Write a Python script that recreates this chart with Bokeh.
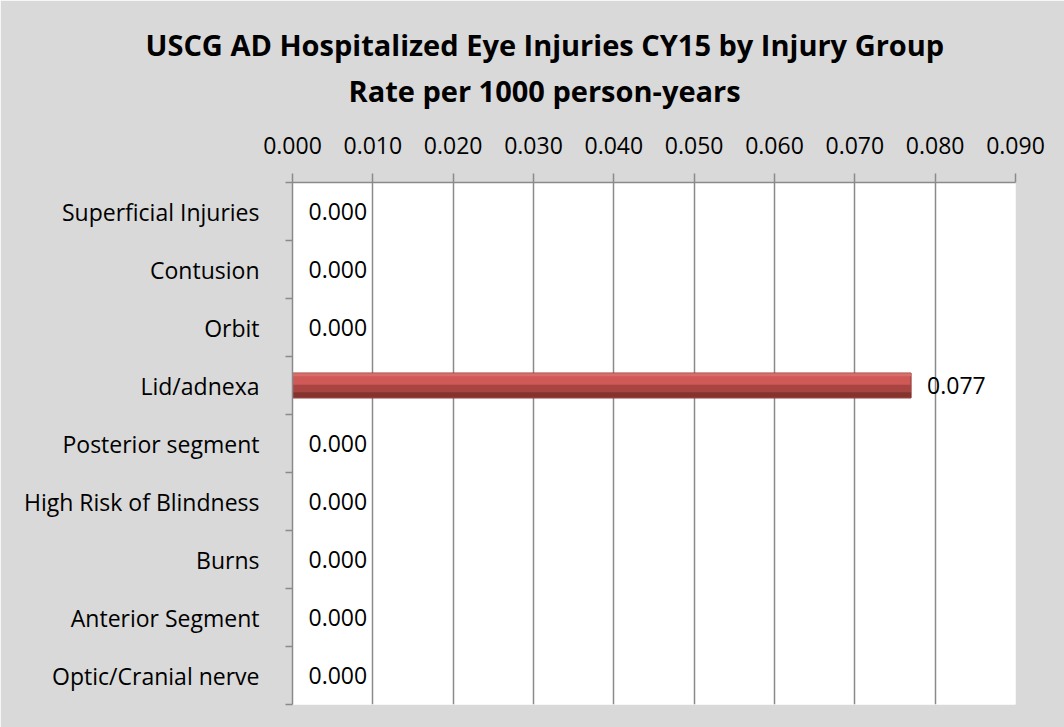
from bokeh.plotting import figure
from bokeh.models import (Range1d, LinearAxis, FixedTicker, Title,
                          NumeralTickFormatter, ColumnDataSource)
from bokeh.core.properties import value
from bokeh.embed import file_html
from bokeh.resources import INLINE

# ---- data ----
categories = ["Superficial Injuries", "Contusion", "Orbit", "Lid/adnexa",
              "Posterior segment", "High Risk of Blindness", "Burns",
              "Anterior Segment", "Optic/Cranial nerve"]
rates = [0.000, 0.000, 0.000, 0.077, 0.000, 0.000, 0.000, 0.000, 0.000]
x_ticks = [0.000, 0.010, 0.020, 0.030, 0.040, 0.050, 0.060, 0.070, 0.080, 0.090]
title_line1 = "USCG AD Hospitalized Eye Injuries CY15 by Injury Group"
title_line2 = "Rate per 1000 person-years"

FONT = "Open Sans"
GRID = "#8a8a8a"
FS = "23px"

n = len(categories)
# category slot centres, first category at the top
ypos = [n - 1 - i + 0.5 for i in range(n)]

source = ColumnDataSource(data=dict(
    cat=categories,
    y=ypos,
    rate=rates,
    label=[f"{v:.3f}" for v in rates],
))

p = figure(width=1064, height=727,
           y_range=Range1d(0, n),
           x_range=Range1d(0, 0.09),
           x_axis_location="above",
           output_backend="svg", toolbar_location=None,
           min_border_left=292, min_border_right=49,
           min_border_top=182, min_border_bottom=23)

p.border_fill_color = "#d9d9d9"
p.background_fill_color = "white"
p.outline_line_color = None

# top x axis
xa = p.xaxis[0]
xa.ticker = FixedTicker(ticks=x_ticks)
xa.formatter = NumeralTickFormatter(format="0.000")
xa.major_tick_out = 9
xa.major_tick_in = 0
xa.minor_tick_line_color = None
xa.major_tick_line_color = GRID
xa.major_tick_line_width = 1.5
xa.axis_line_color = GRID
xa.axis_line_width = 1.5
xa.major_label_text_font = FONT
xa.major_label_text_font_size = FS
xa.major_label_text_color = "black"
xa.major_label_standoff = 20
# blank axis label used only as vertical spacing under the title
xa.axis_label = " "
xa.axis_label_text_font_size = "10px"
xa.axis_label_standoff = 10

p.xgrid.ticker = FixedTicker(ticks=x_ticks)
p.xgrid.grid_line_color = GRID
p.xgrid.grid_line_width = 1.5
p.ygrid.grid_line_color = None

# y axis with tick marks on category boundaries (no labels)
bnd_ticks = list(range(n + 1))
ta = p.yaxis[0]
ta.ticker = FixedTicker(ticks=bnd_ticks)
ta.major_label_overrides = {t: "" for t in bnd_ticks}
ta.major_label_standoff = 0
ta.major_label_text_font_size = "1px"
ta.major_tick_out = 7
ta.major_tick_in = 0
ta.minor_tick_line_color = None
ta.major_tick_line_color = GRID
ta.major_tick_line_width = 1.5
ta.axis_line_color = GRID
ta.axis_line_width = 1.5

# category label axis (labels only, at slot centres)
la = LinearAxis(ticker=FixedTicker(ticks=ypos),
                major_label_overrides={y: c for y, c in zip(ypos, categories)},
                major_tick_out=0, major_tick_in=0, minor_tick_line_color=None,
                axis_line_color=None, major_label_standoff=26,
                major_label_text_font=FONT, major_label_text_font_size=FS,
                major_label_text_color="black")
p.add_layout(la, "left")

# bar with a shaded (bevel-like) look
H = 0.43
p.hbar(y="y", right="rate", left=0, height=H, source=source,
       fill_color="#cf5956", line_color="#8a3836", line_width=1)

def shifted(off):
    return [y + off for y in ypos]

bands = [(-0.09, 0.21, "#a84442"), (-0.16, 0.09, "#84342f"), (0.185, 0.05, "#da6c69")]
for off, hh, col in bands:
    src = ColumnDataSource(data=dict(y=shifted(off), rate=rates))
    p.hbar(y="y", right="rate", left=0, height=hh, source=src,
           fill_color=col, line_color=None)

# data labels
p.text(x="rate", y="y", text="label", source=source, x_offset=16,
       text_align="left", text_baseline="middle",
       text_font=value(FONT), text_font_size=FS, text_color="black")

# two-line title (second line added first so it sits nearer the plot)
p.add_layout(Title(text=title_line2, align="left", offset=56, standoff=0,
                   text_font=FONT, text_font_style="bold", text_font_size="29px",
                   text_color="black"), "above")
p.add_layout(Title(text=title_line1, align="left", offset=-147, standoff=10,
                   text_font=FONT, text_font_style="bold", text_font_size="29px",
                   text_color="black"), "above")

open("out.html", "w").write(file_html(p, INLINE))
